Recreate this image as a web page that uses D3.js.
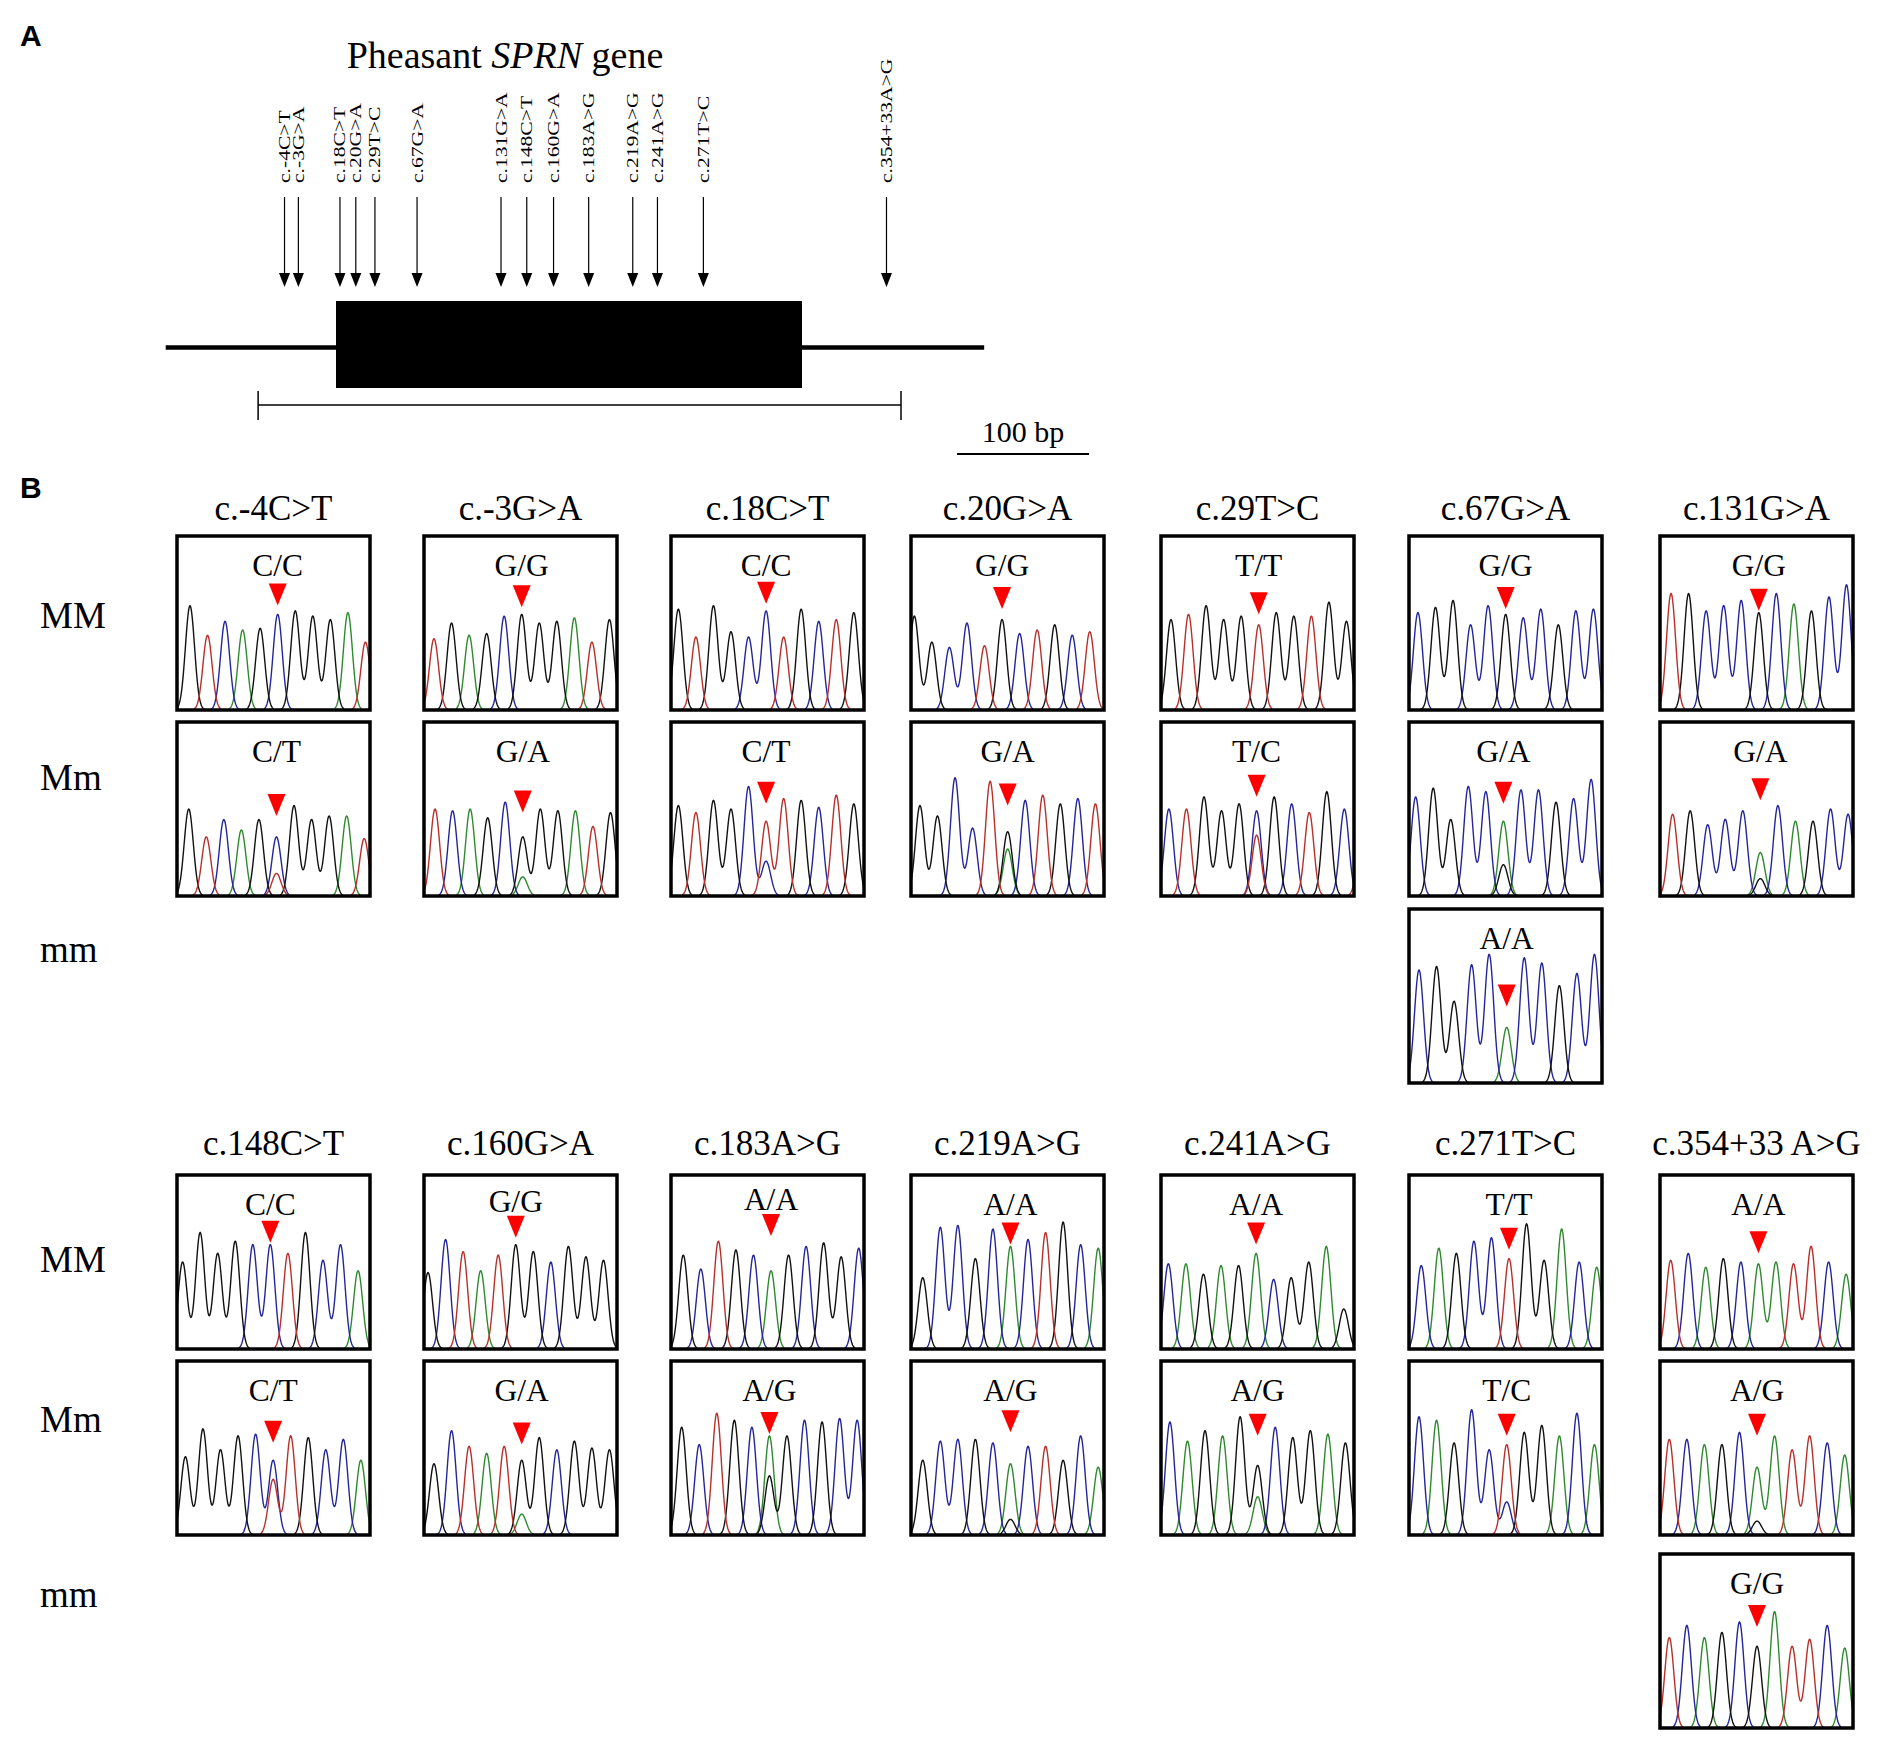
<!DOCTYPE html>
<html><head><meta charset="utf-8">
<script src="https://cdn.jsdelivr.net/npm/d3@7"></script>
<style>
body{margin:0;background:#fff}
svg{display:block}
text{font-family:"Liberation Serif","Times New Roman",serif;fill:#000}
.sans{font-family:"Liberation Sans",Arial,sans-serif;font-weight:bold}
</style>
</head><body>
<svg id="fig" width="1890" height="1737"></svg>
<script>
// ---------------- DATA ----------------
// Panel A: SNP labels and their drawn positions on the gene schematic (bp units, c.1 = start of CDS)
const snpLabels = ["c.-4C>T","c.-3G>A","c.18C>T","c.20G>A","c.29T>C","c.67G>A","c.131G>A","c.148C>T","c.160G>A","c.183A>G","c.219A>G","c.241A>G","c.271T>C","c.354+33A>G"];
const snpDrawnPos = [-38,-27.5,4,16,30.5,62.4,126,145.5,165.8,192.4,225.8,244.5,279.3,418];
const geneSpan = [-128, 492];
const cdsSpan = [1, 354];
const bracketSpan = [-58, 429];
const scaleBarBp = 100;

// Panel B: column titles, row names
const panelTitles = ["c.-4C>T","c.-3G>A","c.18C>T","c.20G>A","c.29T>C","c.67G>A","c.131G>A",
                     "c.148C>T","c.160G>A","c.183A>G","c.219A>G","c.241A>G","c.271T>C","c.354+33 A>G"];
const rowNames = ["MM","Mm","mm"];

// Chromatogram traces (one per genotype box)
const traceSnp = [0,0,1,1,2,2,3,3,4,4,5,5,5,6,6, 7,7,8,8,9,9,10,10,11,11,12,12,13,13,13];
const traceRow = [0,1,0,1,0,1,0,1,0,1,0,1,2,0,1, 0,1,0,1,0,1,0,1,0,1,0,1,0,1,2];
const traceGenotype = ["C/C","C/T","G/G","G/A","C/C","C/T","G/G","G/A","T/T","T/C","G/G","G/A","A/A","G/G","G/A",
                       "C/C","C/T","G/G","G/A","A/A","A/G","A/A","A/G","A/A","A/G","T/T","T/C","A/A","A/G","G/G"];
const traceBases = [
 "GTCAGCGGGAT","GTCAGCGGGAT",
 "TGAGCGGGATG","TCAGCGGGATG",
 "GTGGCCTGCTG","GTGGCTTGCTG",
 "GGCCTGCTGCT","GGCCTGCTGCT",
 "GTGGGTGGTGG","CTGGGCGCTGCT",
 "CGGCCGCCGCC","CGGCCACCGCC","CGGCCACCGCC",
 "TGCCCGCAGCC","TGCCCACAGCC",
 "GGGGCCTGCCA","GGGGCCTGCCA",
 "GCTATGGCGGG","GCTATGGCGGG",
 "GCTGCAGCGGC","GCTGCAGCGCC",
 "GCCGCACTGCA","GCCGCACTGCA",
 "CAGAGACGGAG","CAGAGGCGGAG",
 "CAGCCTGGACA","CAGCCTGGACA",
 "TCAGCAATTCA","TCAGCAATTCA","TCAGCGATTCA"
];
const traceHeights = [
 [0.60,0.43,0.51,0.46,0.47,0.55,0.57,0.54,0.52,0.56,0.39],
 [0.50,0.34,0.44,0.38,0.44,0.34,0.52,0.44,0.46,0.46,0.33],
 [0.41,0.50,0.43,0.44,0.54,0.55,0.50,0.51,0.53,0.39,0.52],
 [0.50,0.49,0.50,0.45,0.54,0.34,0.50,0.49,0.49,0.40,0.48],
 [0.58,0.42,0.60,0.45,0.42,0.57,0.42,0.58,0.51,0.52,0.56],
 [0.52,0.48,0.55,0.50,0.63,0.43,0.56,0.55,0.51,0.58,0.53],
 [0.54,0.39,0.36,0.50,0.37,0.52,0.44,0.46,0.49,0.43,0.45],
 [0.52,0.46,0.68,0.39,0.66,0.37,0.55,0.58,0.53,0.56,0.53],
 [0.52,0.55,0.60,0.52,0.54,0.49,0.56,0.54,0.54,0.62,0.51],
 [0.50,0.50,0.57,0.49,0.53,0.49,0.57,0.53,0.48,0.60,0.50,0.37],
 [0.56,0.59,0.63,0.49,0.60,0.55,0.53,0.58,0.49,0.57,0.58],
 [0.57,0.62,0.44,0.63,0.60,0.43,0.61,0.61,0.54,0.56,0.67],
 [0.65,0.67,0.47,0.68,0.74,0.32,0.72,0.69,0.56,0.63,0.74],
 [0.67,0.67,0.57,0.60,0.63,0.56,0.67,0.61,0.57,0.65,0.72],
 [0.47,0.49,0.41,0.44,0.49,0.25,0.52,0.43,0.43,0.50,0.47],
 [0.50,0.67,0.55,0.62,0.60,0.60,0.55,0.67,0.51,0.60,0.45],
 [0.45,0.61,0.49,0.57,0.58,0.43,0.57,0.56,0.49,0.55,0.43],
 [0.44,0.63,0.56,0.45,0.54,0.60,0.56,0.50,0.59,0.53,0.51],
 [0.41,0.60,0.51,0.47,0.51,0.43,0.56,0.49,0.54,0.50,0.49],
 [0.54,0.46,0.62,0.57,0.54,0.45,0.54,0.59,0.61,0.53,0.58],
 [0.62,0.52,0.70,0.66,0.62,0.57,0.57,0.66,0.65,0.67,0.66],
 [0.41,0.70,0.71,0.52,0.69,0.59,0.63,0.67,0.73,0.60,0.58],
 [0.43,0.54,0.55,0.55,0.53,0.41,0.51,0.51,0.43,0.57,0.39],
 [0.49,0.49,0.43,0.48,0.48,0.55,0.40,0.41,0.50,0.59,0.23],
 [0.65,0.54,0.60,0.57,0.68,0.40,0.62,0.56,0.60,0.58,0.53],
 [0.48,0.58,0.55,0.62,0.64,0.52,0.72,0.51,0.69,0.50,0.47],
 [0.68,0.66,0.53,0.72,0.49,0.52,0.59,0.63,0.57,0.70,0.52],
 [0.51,0.55,0.47,0.52,0.50,0.49,0.50,0.49,0.59,0.50,0.43],
 [0.55,0.55,0.52,0.52,0.59,0.39,0.57,0.49,0.57,0.53,0.46],
 [0.52,0.59,0.52,0.55,0.61,0.47,0.67,0.47,0.51,0.59,0.46]
];
const traceSnpPeak = [5,5,5,5,5,5,5,5,5,5,5,5,5,5,5, 5,5,5,5,5,5,5,5,5,5,5,5,5,5,5];
const traceMinorBase = ["","T","","A","","C","","A","","T","","G","","","G",
                        "","T","","A","","G","","G","","A","","C","","G",""];
const traceMinorHeight = [0,0.13,0,0.11,0,0.20,0,0.27,0,0.35,0,0.18,0,0,0.10,
                          0,0.32,0,0.12,0,0.34,0,0.09,0,0.22,0,0.19,0,0.08,0];
const tracePhase = [0.74,0.67,0.57,0.63,0.42,0.42,0.19,0.51,0.57,0.45,0.51,0.38,0.57,0.63,0.72,
                    0.32,0.48,0.23,0.57,0.70,0.61,0.67,0.67,0.42,0.51,0.70,0.57,0.61,0.53,0.53];
const traceMarker = [0.60,0.46,0.59,0.48,0.61,0.53,0.58,0.52,0.55,0.57,0.58,0.53,0.44,0.57,0.55,
                     0.61,0.53,0.64,0.52,0.65,0.58,0.60,0.59,0.60,0.57,0.57,0.57,0.55,0.57,0.58];
const baseColors = {A:"#2f8a2f", C:"#25259a", G:"#111111", T:"#b8302b"};

// ---------------- LAYOUT ----------------
const svg = d3.select("#fig");
svg.append("rect").attr("width",1890).attr("height",1737).attr("fill","#fff");
const defs = svg.append("defs");

// Panel A
svg.append("text").attr("class","sans").attr("x",20).attr("y",46).attr("font-size",30).text("A");
const title = svg.append("text").attr("x",505).attr("y",68).attr("font-size",38).attr("text-anchor","middle");
title.append("tspan").text("Pheasant ");
title.append("tspan").attr("font-style","italic").text("SPRN");
title.append("tspan").text(" gene");

const xg = d3.scaleLinear().domain(cdsSpan).range([336, 802]);
const geneY = 347.5;
svg.append("line").attr("x1",xg(geneSpan[0])).attr("x2",xg(geneSpan[1]))
  .attr("y1",geneY).attr("y2",geneY).attr("stroke","#000").attr("stroke-width",4.5);
svg.append("rect").attr("x",xg(cdsSpan[0])).attr("width",xg(cdsSpan[1])-xg(cdsSpan[0]))
  .attr("y",301).attr("height",87).attr("fill","#000");
// bracket
const brY = 405;
svg.append("line").attr("x1",xg(bracketSpan[0])).attr("x2",xg(bracketSpan[1])).attr("y1",brY).attr("y2",brY)
  .attr("stroke","#000").attr("stroke-width",1.5);
bracketSpan.forEach(b => svg.append("line").attr("x1",xg(b)).attr("x2",xg(b)).attr("y1",391).attr("y2",420)
  .attr("stroke","#000").attr("stroke-width",1.5));
// scale bar
const sbX = 957, sbLen = xg(scaleBarBp) - xg(0);
svg.append("line").attr("x1",sbX).attr("x2",sbX+sbLen).attr("y1",454).attr("y2",454)
  .attr("stroke","#000").attr("stroke-width",2);
svg.append("text").attr("x",sbX+sbLen/2).attr("y",442).attr("font-size",30).attr("text-anchor","middle").text(scaleBarBp+" bp");

// arrows
snpLabels.forEach((lab,i) => {
  const x = xg(snpDrawnPos[i]);
  svg.append("line").attr("x1",x).attr("x2",x).attr("y1",197).attr("y2",276).attr("stroke","#000").attr("stroke-width",1.2);
  svg.append("path").attr("d",`M${x-5.5},273L${x+5.5},273L${x},287Z`).attr("fill","#000");
  svg.append("text").attr("font-size",17).attr("transform",`translate(${x+5.5},183) rotate(-90) scale(1.27,1)`).text(lab);
});

// Panel B
svg.append("text").attr("class","sans").attr("x",20).attr("y",498).attr("font-size",30).text("B");
const colLeft = [177, 424, 671, 911, 1161, 1409, 1660];
const rowTop = [[536, 722, 909],[1175, 1361, 1554]];
const rowLabelY = [[628, 790, 962],[1272, 1432, 1607]];
const titleY = [520, 1155];
const boxW = 193, boxH = 174, nSlots = 11, sigma = 0.26;

[0,1].forEach(b => {
  rowNames.forEach((nm,r) => svg.append("text").attr("x",40).attr("y",rowLabelY[b][r]).attr("font-size",37).text(nm));
  d3.range(7).forEach(c => {
    svg.append("text").attr("x",colLeft[c]+boxW/2).attr("y",titleY[b]).attr("font-size",35)
      .attr("text-anchor","middle").text(panelTitles[b*7+c]);
  });
});

const ts = d3.range(0, nSlots + 0.0001, 0.03);
traceBases.forEach((seq, k) => {
  const snp = traceSnp[k], b = snp < 7 ? 0 : 1, c = snp % 7, r = traceRow[k];
  const x0 = colLeft[c], y0 = rowTop[b][r];
  const x = d3.scaleLinear().domain([0, nSlots]).range([x0, x0 + boxW]);
  const y = d3.scaleLinear().domain([0, 1]).range([y0 + boxH, y0]);
  const peaks = seq.split("").map((base,i) => ({base, pos: tracePhase[k] + i, h: traceHeights[k][i]}));
  if (traceMinorBase[k]) peaks.push({base: traceMinorBase[k], pos: tracePhase[k] + traceSnpPeak[k], h: traceMinorHeight[k]});

  svg.append("rect").attr("x",x0).attr("y",y0).attr("width",boxW).attr("height",boxH).attr("fill","#fff");
  defs.append("clipPath").attr("id","clip"+k).append("rect").attr("x",x0).attr("y",y0).attr("width",boxW).attr("height",boxH);
  const g = svg.append("g").attr("clip-path",`url(#clip${k})`);
  const line = d3.line().defined(d => d[1] > 0.004).x(d => x(d[0])).y(d => y(d[1]));
  ["A","C","G","T"].forEach(base => {
    const ps = peaks.filter(p => p.base === base);
    if (!ps.length) return;
    const vals = ts.map(t => [t, d3.sum(ps, p => p.h * Math.exp(-((t - p.pos) ** 2) / (2 * sigma * sigma)))]);
    g.append("path").datum(vals).attr("d", line).attr("fill","none")
      .attr("stroke", baseColors[base]).attr("stroke-width",1.4).attr("stroke-linejoin","round");
  });
  svg.append("rect").attr("x",x0).attr("y",y0).attr("width",boxW).attr("height",boxH)
    .attr("fill","none").attr("stroke","#000").attr("stroke-width",3.5);
  const tx = x(tracePhase[k] + traceSnpPeak[k]);
  const tip = y(traceMarker[k]);
  const triTop = tip - 22;
  svg.append("path").attr("d",`M${tx-9},${triTop}L${tx+9},${triTop}L${tx},${tip}Z`).attr("fill","#ff0000");
  svg.append("text").attr("x",tx).attr("y",Math.min(y0+40, triTop-4)).attr("font-size",31.5)
    .attr("text-anchor","middle").text(traceGenotype[k]);
});
</script>
</body></html>
